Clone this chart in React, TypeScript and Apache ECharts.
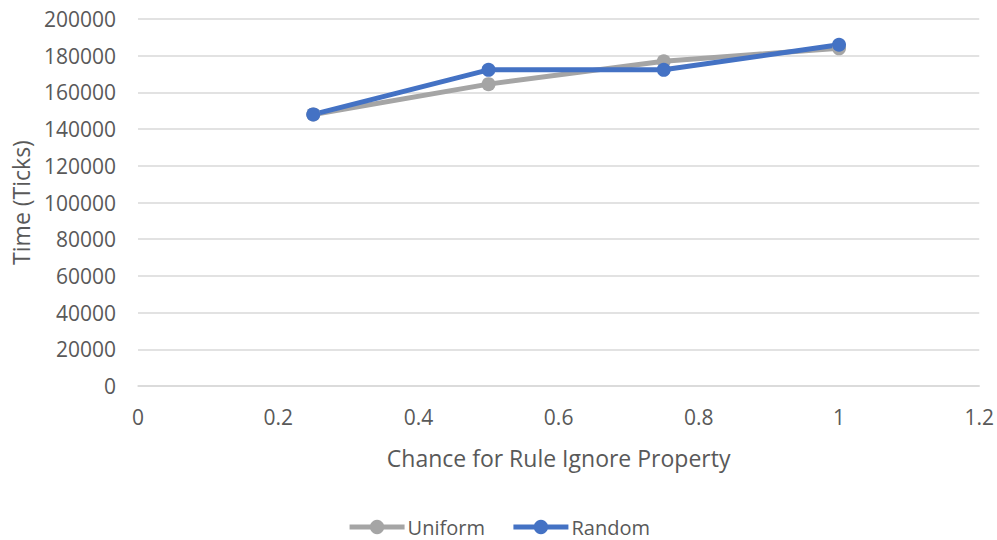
import React, { useEffect, useRef } from "react";
import * as echarts from "echarts";

const xValues = [0.25, 0.5, 0.75, 1];
const uniform = [148000, 164500, 177000, 184000];
const random = [148000, 172300, 172300, 186000];
const seriesNames = ["Uniform", "Random"];

export default function App() {
  const ref = useRef<HTMLDivElement>(null);
  useEffect(() => {
    const chart = echarts.init(ref.current!, null, { renderer: "svg" });
    const font = "Open Sans";
    chart.setOption({
      animation: false,
      textStyle: { fontFamily: font },
      grid: { left: 138, right: 14, top: 19, bottom: 154, containLabel: false },
      legend: {
        bottom: -2,
        left: "center",
        itemWidth: 55,
        itemHeight: 18,
        itemGap: 26,
        lineStyle: { width: 5 },
        textStyle: { color: "#595959", fontSize: 20, fontFamily: font, padding: [0, 0, 0, -2] },
        data: seriesNames,
      },
      xAxis: {
        type: "value",
        min: 0,
        max: 1.2,
        interval: 0.2,
        name: "Chance for Rule Ignore Property",
        nameLocation: "middle",
        nameGap: 60,
        nameTextStyle: { color: "#595959", fontSize: 23, fontFamily: font },
        axisLine: { show: true, lineStyle: { color: "#d9d9d9", width: 1.5 } },
        axisTick: { show: false },
        splitLine: { show: false },
        axisLabel: { color: "#595959", fontSize: 21, margin: 20, fontFamily: font },
      },
      yAxis: {
        type: "value",
        min: 0,
        max: 200000,
        interval: 20000,
        name: "Time (Ticks)",
        nameLocation: "middle",
        nameGap: 106,
        nameTextStyle: { color: "#595959", fontSize: 23, fontFamily: font },
        axisLine: { show: false },
        axisTick: { show: false },
        splitLine: { lineStyle: { color: "#d9d9d9", width: 1.5 } },
        axisLabel: {
          color: "#595959",
          fontSize: 21,
          margin: 22,
          fontFamily: font,
          formatter: (v: number) => String(v),
        },
      },
      series: [
        {
          name: seriesNames[0],
          type: "line",
          data: xValues.map((x, i) => [x, uniform[i]]),
          symbol: "circle",
          symbolSize: 14,
          lineStyle: { color: "#a5a5a5", width: 5 },
          itemStyle: { color: "#a5a5a5" },
        },
        {
          name: seriesNames[1],
          type: "line",
          data: xValues.map((x, i) => [x, random[i]]),
          symbol: "circle",
          symbolSize: 14,
          lineStyle: { color: "#4472c4", width: 5 },
          itemStyle: { color: "#4472c4" },
        },
      ],
    });
    return () => chart.dispose();
  }, []);
  return <div ref={ref} style={{ width: 997, height: 540, position: "absolute", left: 0, top: 0 }} />;
}
